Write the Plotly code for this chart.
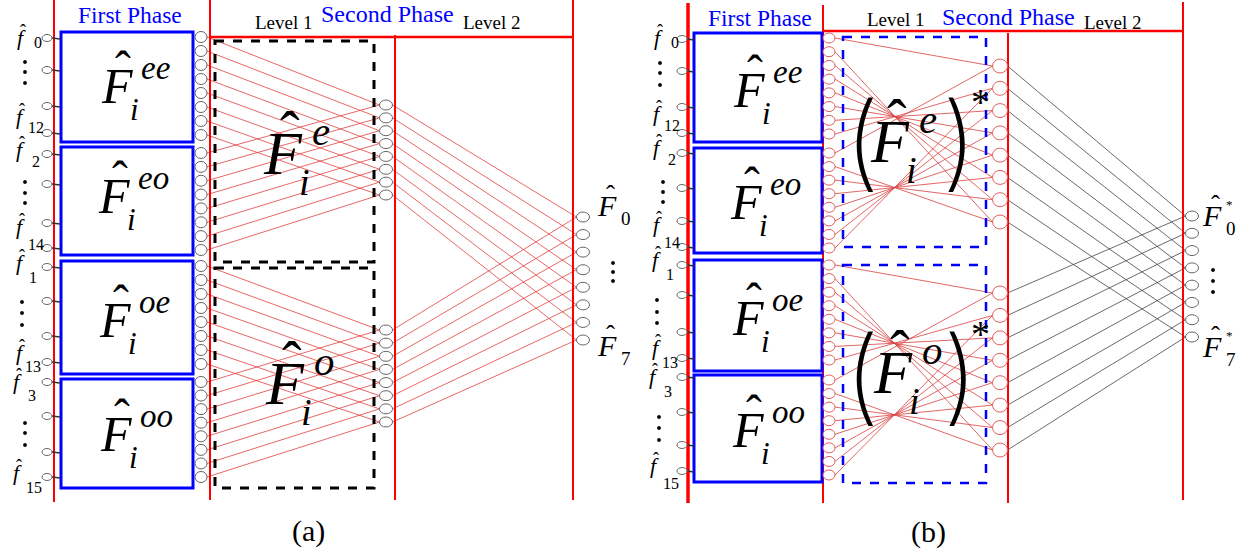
import numpy as np
import plotly.graph_objects as go

W, H = 1259, 555
SERIF = "Liberation Serif"

# ---- structure and labels ----------------------------------------------
BLOCK_SUPS = ["ee", "eo", "oe", "oo"]                      # first-phase sub-transforms
HALF_SUPS = ["e", "o"]                                      # level-1 blocks of the second phase
INPUT_SUBS = ["0", "12", "2", "14", "1", "13", "3", "15"]   # first / last input of every block
OUTPUT_SUBS = ["0", "7"]                                    # first / last final output
NODES = 8                                                   # nodes per block
PHASES = ["First Phase", "Second Phase"]
LEVELS = ["Level 1", "Level 2"]
CAPTIONS = ["(a)", "(b)"]

# ---- panel geometry ------------------------------------------------------
PANEL_A = dict(
    frame=[(54, 0, 54, 502, 2), (210, 0, 210, 500, 2), (210, 37, 573, 37, 2.5),
           (395, 35, 395, 500, 2), (573, 0, 573, 500, 2)],
    box_x=(61, 193), boxes_y=[(32, 142), (147, 255), (261, 374), (379, 488)],
    in_x=47, in_y=[38, 70, 106, 133, 154, 184, 223, 248, 267, 301, 336, 362, 382, 416, 452, 477],
    tick=(52, 60),
    lab=[(21, 40, 33, 42), (20, 119, 27, 127), (20, 152, 31, 161), (20, 229, 27, 244),
         (20, 265, 28, 277), (20, 355, 24, 366), (17, 384, 27, 395), (17, 475, 25, 487)],
    vdots=[(25, [62, 72, 83]), (25, [182, 193, 203]), (22, [302, 313, 325]), (25, [423, 433, 445])],
    p1_x=201, p1_span=[(37, 135), (153, 250), (266, 364), (382, 477)], p1_r=(6, 5.5),
    p1_color="#666666",
    l1_boxes=[(215, 41, 374, 262), (215, 268, 374, 488)], l1_box_color="black", l1_box_w=3,
    l1_x=386, l1_span=[(105, 195), (330, 422)], l1_r=(6.5, 5), l1_color="#666666",
    out_x=583, out_span=(217, 340), out_r=(6.5, 5),
    order=lambda k: k,
    lv1_line="#e2403f", lv2_line="#e2403f",
    phase1_title=(130, 15), level1_title=(284, 22), phase2_title=(387, 14), level2_title=(492, 22),
    block_F=[(117, 86), (114, 196), (115, 320), (116, 434)], block_s=50,
    half_F=[(283, 153), (285, 383)], half_s=62, paren=False,
    out_dots=(613, [263, 272, 281]),
    out_lab=[(607, 205), (607, 345)], star=False,
    caption=(308, 531),
)

PANEL_B = dict(
    frame=[(688, 3, 688, 503, 3.5), (823, 5, 823, 503, 2), (823, 31, 1183, 31, 2.5),
           (1008, 33, 1008, 503, 2), (1183, 2, 1183, 500, 2)],
    box_x=(694, 822), boxes_y=[(33, 142), (148, 253), (260, 371), (375, 482)],
    in_x=682, in_y=[39, 71, 107, 133, 153, 188, 221, 247, 265, 295, 332, 358, 377, 412, 445, 471],
    tick=(687, 694),
    lab=[(658, 40, 670, 42), (657, 116, 663, 125), (657, 150, 667, 159), (657, 227, 663, 242),
         (656, 262, 665, 274), (656, 350, 661, 362), (653, 379, 663, 391), (654, 468, 662, 483)],
    vdots=[(660, [63, 73, 85]), (663, [182, 192, 202]), (657, [300, 312, 323]), (659, [417, 428, 440])],
    p1_x=829, p1_span=[(38, 134), (153, 248), (265, 360), (380, 475)], p1_r=(6, 5),
    p1_color="#e06060",
    l1_boxes=[(843, 37, 986, 247), (843, 265, 986, 483)], l1_box_color="#0000ff", l1_box_w=2.5,
    l1_x=1000, l1_span=[(66, 222), (293, 450)], l1_r=(7.5, 7), l1_color="#e06060",
    out_x=1192, out_span=(216, 337), out_r=(6.5, 5),
    order=lambda k: (NODES - k) % NODES,
    lv1_line="#d9403f", lv2_line="#444444",
    phase1_title=(760, 18), level1_title=(896, 19), phase2_title=(1008, 17), level2_title=(1113, 22),
    block_F=[(749, 90), (746, 202), (748, 318), (748, 430)], block_s=50,
    half_F=[(890, 141), (893, 372)], half_s=62, paren=True,
    parens=[(862, 959, 145, (980, 95)), (862, 960, 379, (980, 327))],
    out_dots=(1213, [270, 281, 292]),
    out_lab=[(1212, 215), (1212, 346)], star=True,
    caption=(928, 532),
)

shapes, annotations, traces = [], [], []


def seg(x0, y0, x1, y1, color, width, dash=None):
    d = dict(type="line", xref="x", yref="y", x0=x0, y0=y0, x1=x1, y1=y1,
             line=dict(color=color, width=width), layer="above")
    if dash:
        d["line"]["dash"] = dash
    shapes.append(d)


def rect(x0, y0, x1, y1, color, width, dash=None):
    d = dict(type="rect", xref="x", yref="y", x0=x0, y0=y0, x1=x1, y1=y1,
             line=dict(color=color, width=width), fillcolor="rgba(0,0,0,0)", layer="above")
    if dash:
        d["line"]["dash"] = dash
    shapes.append(d)


def ellipse(cx, cy, rx, ry, color, width=1):
    shapes.append(dict(type="circle", xref="x", yref="y", x0=cx - rx, x1=cx + rx,
                       y0=cy - ry, y1=cy + ry, line=dict(color=color, width=width),
                       fillcolor="white", layer="above"))


def dot(cx, cy, r=1.7):
    shapes.append(dict(type="circle", xref="x", yref="y", x0=cx - r, x1=cx + r,
                       y0=cy - r, y1=cy + r, line=dict(color="black", width=0.5),
                       fillcolor="black", layer="above"))


def text(x, y, s, size, color="black", italic=False, xanchor="center", family=SERIF, weight=None):
    font = dict(family=family, size=size, color=color)
    if weight:
        font["weight"] = weight
    annotations.append(dict(x=x, y=y, xref="x", yref="y", showarrow=False,
                            text=f"<i>{s}</i>" if italic else s, xanchor=xanchor,
                            yanchor="middle", borderpad=0, font=font))


def hat(x, y, size):
    # modifier circumflex, ink centred on (x, y)
    text(x, y + 0.26 * size, "\u02c6", size)


def math_F(xc, yc, s, sup):
    text(xc, yc, "F", s, italic=True)
    hat(xc + 0.11 * s, yc - 0.58 * s, 0.95 * s)
    ss = 0.66 * s
    text(xc + 0.45 * s, yc - 0.28 * s - 0.11 * ss, sup, ss, italic=True, xanchor="left")
    text(xc + 0.35 * s, yc + 0.47 * s, "i", 0.62 * s, italic=True)


def spread(span, n=NODES):
    return list(np.linspace(span[0], span[1], n))


def connect(pairs, color, width):
    xs, ys = [], []
    for (x0, y0), (x1, y1) in pairs:
        xs += [x0, x1, None]
        ys += [y0, y1, None]
    traces.append(go.Scatter(x=xs, y=ys, mode="lines", hoverinfo="skip",
                             line=dict(color=color, width=width), showlegend=False))


def draw_panel(P, caption):
    # frame
    for x0, y0, x1, y1, w in P["frame"]:
        seg(x0, y0, x1, y1, "#ff0000", w)

    # titles
    text(*P["phase1_title"], PHASES[0], 23.5, color="#0000ff")
    text(*P["phase2_title"], PHASES[1], 24, color="#0000ff")
    text(*P["level1_title"], LEVELS[0], 19)
    text(*P["level2_title"], LEVELS[1], 19)

    # first-phase blocks
    bx0, bx1 = P["box_x"]
    for (y0, y1), sup, (fx, fy) in zip(P["boxes_y"], BLOCK_SUPS, P["block_F"]):
        rect(bx0, y0, bx1, y1, "#0000ff", 3)
        math_F(fx, fy, P["block_s"], sup)

    # inputs
    for y in P["in_y"]:
        seg(P["tick"][0], y, P["tick"][1], y + 1, "#333333", 1.6)
        ellipse(P["in_x"], y, 5, 3.5, "#666666")
    for (fx, fy, sx, sy), sub in zip(P["lab"], INPUT_SUBS):
        text(fx, fy - 0.11 * 22, "f", 22, italic=True)
        hat(fx + 2, fy - 14, 18)
        text(sx, sy, sub, 16, xanchor="left")
    for x, ys in P["vdots"]:
        for y in ys:
            dot(x, y)

    # node positions
    p1 = [spread(s) for s in P["p1_span"]]
    l1 = [spread(s) for s in P["l1_span"]]
    out = spread(P["out_span"])
    p1rx, p1ry = P["p1_r"]
    l1rx, l1ry = P["l1_r"]
    orx, ory = P["out_r"]

    # level 1 butterflies
    pairs = []
    for h in range(2):
        for b in (2 * h, 2 * h + 1):
            for k in range(NODES):
                pairs.append(((P["p1_x"] + p1rx, p1[b][k]),
                              (P["l1_x"] - l1rx, l1[h][P["order"](k)])))
    connect(pairs, P["lv1_line"], 0.8)

    # level 2 butterfly
    pairs = []
    for h in range(2):
        for k in range(NODES):
            pairs.append(((P["l1_x"] + l1rx, l1[h][k]), (P["out_x"] - orx, out[k])))
    connect(pairs, P["lv2_line"], 0.8)

    # level-1 dashed blocks
    for (x0, y0, x1, y1) in P["l1_boxes"]:
        rect(x0, y0, x1, y1, P["l1_box_color"], P["l1_box_w"], dash="dash")

    # nodes
    for blk in p1:
        for y in blk:
            ellipse(P["p1_x"], y, p1rx, p1ry, P["p1_color"])
    for half in l1:
        for y in half:
            ellipse(P["l1_x"], y, l1rx, l1ry, P["l1_color"])
    for y in out:
        ellipse(P["out_x"], y, orx, ory, "#666666")

    # level-1 block labels
    for (fx, fy), sup in zip(P["half_F"], HALF_SUPS):
        math_F(fx, fy, P["half_s"], sup)
    if P["paren"]:
        for lx, rx_, py, (sx, sy) in P["parens"]:
            ps = 104
            text(lx, py - 0.05 * ps, "(", ps, family="Inter", weight=200)
            text(rx_, py - 0.05 * ps, ")", ps, family="Inter", weight=200)
            text(sx, sy + 0.19 * 38, "*", 38)

    # final outputs
    dx, dys = P["out_dots"]
    for y in dys:
        dot(dx, y)
    for (fx, fy), sub in zip(P["out_lab"], OUTPUT_SUBS):
        s = 30
        text(fx, fy, "F", s, italic=True)
        hat(fx + 3, fy - 17, 27)
        text(fx + 13, fy + 13, sub, 19, xanchor="left")
        if P["star"]:
            text(fx + 17, fy - 13 + 0.19 * 13, "*", 13)

    text(*P["caption"], caption, 30)


draw_panel(PANEL_A, CAPTIONS[0])
draw_panel(PANEL_B, CAPTIONS[1])

fig = go.Figure(traces)
fig.update_layout(
    width=W, height=H, margin=dict(l=0, r=0, t=0, b=0),
    paper_bgcolor="white", plot_bgcolor="white",
    xaxis=dict(range=[0, W], visible=False, fixedrange=True),
    yaxis=dict(range=[H, 0], visible=False, fixedrange=True),
    shapes=shapes, annotations=annotations, showlegend=False,
)
fig.write_html("out.html")
